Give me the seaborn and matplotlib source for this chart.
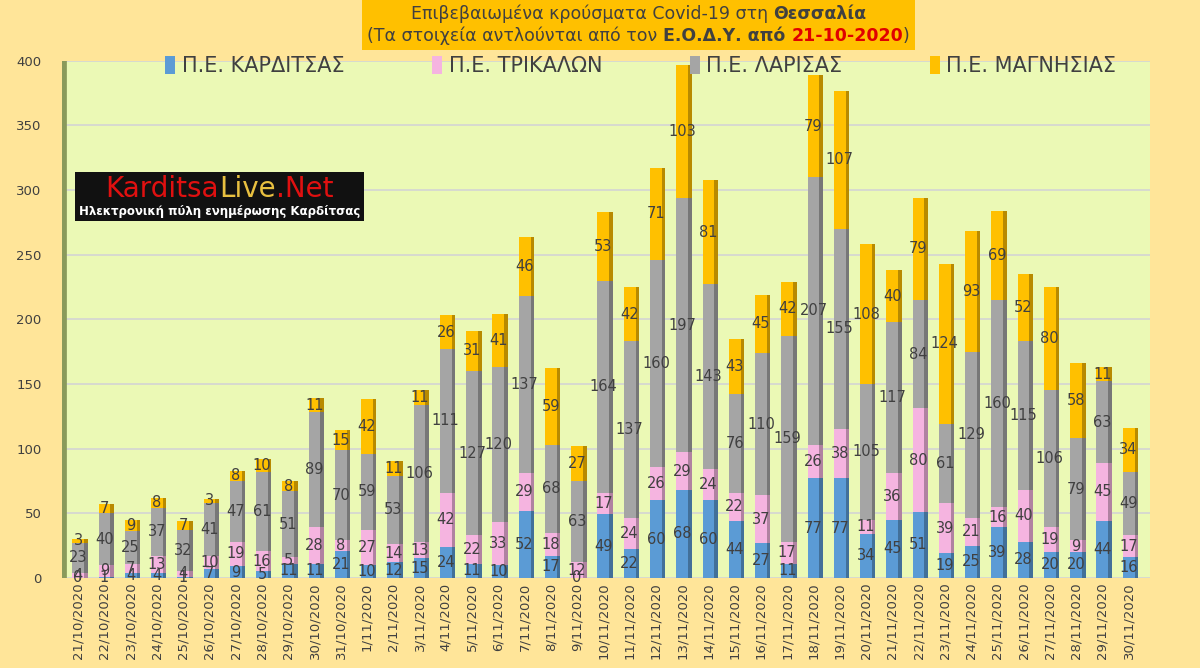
import pandas as pd
import matplotlib
matplotlib.use('Agg')
import matplotlib.pyplot as plt
import seaborn as sns
from matplotlib.offsetbox import TextArea, HPacker, VPacker, AnchoredOffsetbox
from matplotlib.patches import Patch, Rectangle
import matplotlib.colors as mcolors

# ημερομηνίες
dates = ['21/10/2020', '22/10/2020', '23/10/2020', '24/10/2020', '25/10/2020', '26/10/2020',
         '27/10/2020', '28/10/2020', '29/10/2020', '30/10/2020', '31/10/2020', '1/11/2020',
         '2/11/2020', '3/11/2020', '4/11/2020', '5/11/2020', '6/11/2020', '7/11/2020',
         '8/11/2020', '9/11/2020', '10/11/2020', '11/11/2020', '12/11/2020', '13/11/2020',
         '14/11/2020', '15/11/2020', '16/11/2020', '17/11/2020', '18/11/2020', '19/11/2020',
         '20/11/2020', '21/11/2020', '22/11/2020', '23/11/2020', '24/11/2020', '25/11/2020',
         '26/11/2020', '27/11/2020', '28/11/2020', '29/11/2020', '30/11/2020']

karditsa = [0, 1, 4, 4, 1, 7, 9, 5, 11, 11, 21, 10, 12, 15, 24, 11, 10, 52, 17, 0, 49,
            22, 60, 68, 60, 44, 27, 11, 77, 77, 34, 45, 51, 19, 25, 39, 28, 20, 20, 44, 16]
trikala = [4, 9, 7, 13, 4, 10, 19, 16, 5, 28, 8, 27, 14, 13, 42, 22, 33, 29, 18, 12, 17,
           24, 26, 29, 24, 22, 37, 17, 26, 38, 11, 36, 80, 39, 21, 16, 40, 19, 9, 45, 17]
larisa = [23, 40, 25, 37, 32, 41, 47, 61, 51, 89, 70, 59, 53, 106, 111, 127, 120, 137, 68, 63, 164,
          137, 160, 197, 143, 76, 110, 159, 207, 155, 105, 117, 84, 61, 129, 160, 115, 106, 79, 63, 49]
magnisia = [3, 7, 9, 8, 7, 3, 8, 10, 8, 11, 15, 42, 11, 11, 26, 31, 41, 46, 59, 27, 53,
            42, 71, 103, 81, 43, 45, 42, 79, 107, 108, 40, 79, 124, 93, 69, 52, 80, 58, 11, 34]

series = ['Π.Ε. ΚΑΡΔΙΤΣΑΣ', 'Π.Ε. ΤΡΙΚΑΛΩΝ', 'Π.Ε. ΛΑΡΙΣΑΣ', 'Π.Ε. ΜΑΓΝΗΣΙΑΣ']
colors = ['#5B9BD5', '#F5B4E0', '#A5A5A5', '#FFC000']

df = pd.DataFrame({'Ημερομηνία': dates, series[0]: karditsa, series[1]: trikala,
                   series[2]: larisa, series[3]: magnisia})

sns.set_style('white')
plt.rcParams['font.family'] = ['DejaVu Sans']

fig = plt.figure(figsize=(12, 6.68), dpi=100)
fig.patch.set_facecolor('#FFE599')
ax = fig.add_axes([0.052, 0.135, 0.906, 0.774])
ax.set_facecolor('#EBF9B5')

bottom = pd.Series([0] * len(df))
for s, c in zip(series, colors):
    sns.barplot(x='Ημερομηνία', y=s, data=df, color=c, bottom=bottom.values,
                width=0.45, ax=ax, order=dates, saturation=1, edgecolor='none')
    bottom = bottom + df[s]

# σκιά δεξιά (ψεύτικο 3D)
for cont, c in zip(ax.containers, colors):
    dark = tuple(v * 0.72 for v in mcolors.to_rgb(c))
    for p in cont.patches:
        ax.add_patch(Rectangle((p.get_x() + p.get_width(), p.get_y()), p.get_width() * 0.3,
                               p.get_height(), facecolor=dark, edgecolor='none', zorder=p.get_zorder()))

for cont, s in zip(ax.containers, series):
    ax.bar_label(cont, labels=[str(v) for v in df[s]], label_type='center',
                 fontsize=10.5, color='#404040')

ax.set_ylim(0, 400)
ax.set_xlim(-0.6, len(dates) - 0.2)
ax.set_yticks(range(0, 401, 50))
ax.yaxis.grid(True, color='#D4D4D4', linewidth=1.2)
ax.set_axisbelow(True)
ax.tick_params(axis='y', labelsize=9.5, colors='#404040', length=0, pad=15)
ax.tick_params(axis='x', labelsize=9.5, colors='#404040', length=0, rotation=90)
ax.set_xlabel('')
ax.set_ylabel('')
for sp in ax.spines.values():
    sp.set_visible(False)
ax.axvline(-0.6, color='#8A9A5B', linewidth=7)

handles = [Patch(facecolor=c, edgecolor='none') for c in colors]
ax.legend(handles, series, loc='upper center', bbox_to_anchor=(0.532, 1.045), ncol=4,
          frameon=False, columnspacing=4.2, handlelength=0.5,
          handleheight=0.9, handletextpad=0.3, labelcolor='#404040',
          prop=dict(size=15))

# λογότυπο
logo1 = HPacker(children=[TextArea('Karditsa', textprops=dict(color='#E01010', fontsize=20)),
                          TextArea('Live', textprops=dict(color='#E8C040', fontsize=20)),
                          TextArea('.Net', textprops=dict(color='#E01010', fontsize=20))],
                pad=0, sep=0, align='baseline')
logo2 = TextArea('Ηλεκτρονική πύλη ενημέρωσης Καρδίτσας',
                 textprops=dict(color='white', fontsize=8.5, fontweight='bold'))
logo = AnchoredOffsetbox(loc='upper left', child=VPacker(children=[logo1, logo2], pad=0, sep=1,
                                                         align='center'),
                         pad=0.25, frameon=True, bbox_to_anchor=(0.012, 0.785),
                         bbox_transform=ax.transAxes, borderpad=0)
logo.patch.set_facecolor('#111111')
logo.patch.set_edgecolor('none')
ax.add_artist(logo)

# τίτλος
tk = dict(color='#404040', fontsize=12.5)
line1 = HPacker(children=[TextArea('Επιβεβαιωμένα κρούσματα Covid-19 στη ', textprops=tk),
                          TextArea('Θεσσαλία', textprops=dict(tk, fontweight='bold'))],
                pad=0, sep=0, align='baseline')
line2 = HPacker(children=[TextArea('(Τα στοιχεία αντλούνται από τον ', textprops=tk),
                          TextArea('Ε.Ο.Δ.Υ. από ', textprops=dict(tk, fontweight='bold')),
                          TextArea('21-10-2020', textprops=dict(tk, fontweight='bold', color='#E00000')),
                          TextArea(')', textprops=tk)],
                pad=0, sep=0, align='baseline')
box = VPacker(children=[line1, line2], pad=0, sep=3, align='center')
title = AnchoredOffsetbox(loc='center', child=box, pad=0.35, frameon=True,
                          bbox_to_anchor=(0.532, 0.963), bbox_transform=fig.transFigure,
                          borderpad=0)
title.patch.set_facecolor('#FFC000')
title.patch.set_edgecolor('none')
fig.add_artist(title)

fig.savefig('out.png', dpi=100, facecolor=fig.get_facecolor())
